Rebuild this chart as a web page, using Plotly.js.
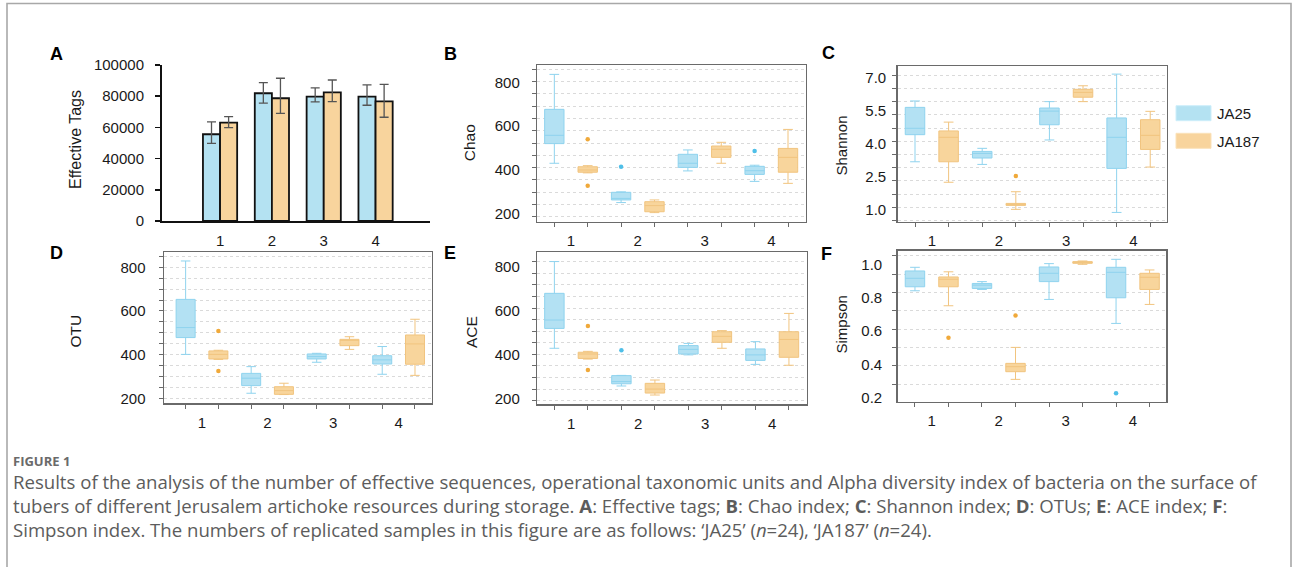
<!DOCTYPE html>
<html><head><meta charset="utf-8">
<script src="https://cdn.plot.ly/plotly-3.0.1.min.js"></script>
<style>html,body{margin:0;padding:0;background:#fff;} #chart{width:1293px;height:567px;}</style>
</head><body><div id="chart"></div>
<script>
const W = 1293, H = 567;
const groups = ['1', '2', '3', '4'];
const seriesNames = ['JA25', 'JA187'];

// Panel A: effective tags (mean, +err, -err)
const tagsJA25 = [55600, 81900, 79700, 79700];
const tagsJA25Plus = [8000, 6800, 5700, 7500];
const tagsJA25Minus = [5800, 6400, 3400, 5500];
const tagsJA187 = [63000, 78700, 82500, 76700];
const tagsJA187Plus = [3900, 12800, 7900, 10900];
const tagsJA187Minus = [3200, 9700, 6000, 10200];

// Box stats per group: [lower whisker, q1, median, q3, upper whisker]
const chaoJA25 = [[429, 519, 557, 676, 836], [249, 261, 268, 296, 298], [394, 410, 429, 470, 490], [346, 378, 395, 415, 420]];
const chaoJA187 = [[385, 388, 398, 413, 418], [203, 207, 235, 253, 261], [429, 456, 493, 508, 525], [337, 388, 456, 497, 584]];
const chaoOutJA25 = [[2, 413], [4, 485]];
const chaoOutJA187 = [[1, 539], [1, 326]];

const shannonJA25 = [[3.20, 4.43, 4.72, 5.67, 5.96], [3.08, 3.37, 3.58, 3.67, 3.81], [4.19, 4.88, 5.50, 5.64, 5.93], [0.90, 2.90, 4.31, 5.19, 7.18]];
const shannonJA187 = [[2.27, 3.20, 4.31, 4.60, 5.00], [1.04, 1.22, 1.27, 1.31, 1.84], [5.93, 6.13, 6.35, 6.49, 6.65], [2.96, 3.76, 4.40, 5.11, 5.49]];
const shannonOutJA25 = [];
const shannonOutJA187 = [[2, 2.55]];

const otuJA25 = [[401, 478, 524, 653, 829], [223, 258, 292, 314, 345], [365, 380, 391, 403, 406], [310, 357, 376, 395, 437]];
const otuJA187 = [[378, 380, 401, 417, 420], [217, 218, 235, 253, 269], [424, 441, 468, 470, 482], [305, 356, 449, 490, 562]];
const otuOutJA25 = [];
const otuOutJA187 = [[1, 508], [1, 325]];

const aceJA25 = [[430, 520, 558, 679, 823], [259, 269, 279, 306, 307], [400, 404, 425, 442, 452], [357, 375, 400, 427, 460]];
const aceJA187 = [[381, 384, 404, 412, 416], [218, 227, 245, 271, 286], [430, 457, 484, 505, 510], [353, 389, 470, 505, 588]];
const aceOutJA25 = [[2, 421]];
const aceOutJA187 = [[1, 531], [1, 332]];

const simpsonJA25 = [[0.843, 0.867, 0.918, 0.962, 0.984], [0.851, 0.857, 0.877, 0.887, 0.898], [0.791, 0.898, 0.948, 0.986, 1.006], [0.647, 0.801, 0.954, 0.984, 1.032]];
const simpsonJA187 = [[0.753, 0.867, 0.912, 0.926, 0.957], [0.311, 0.357, 0.387, 0.407, 0.503], [1.002, 1.008, 1.014, 1.018, 1.022], [0.761, 0.851, 0.924, 0.948, 0.968]];
const simpsonOutJA25 = [[4, 0.227]];
const simpsonOutJA187 = [[1, 0.561], [2, 0.695]];

const colors = {
  fill: ['#b3e1f3', '#f8d59c'],
  line: ['#8fd3ee', '#f1c47f'],
  dot: ['#4fbfe8', '#f0a93a'],
  bar: ['#b4e2f2', '#f8d49d']
};

const px = x => x / W;
const py = y => 1 - y / H;
const FONT = 'Liberation Sans, Arial, sans-serif';

const traces = [];

// Panel A bars
[[tagsJA25, tagsJA25Plus, tagsJA25Minus], [tagsJA187, tagsJA187Plus, tagsJA187Minus]].forEach((d, s) => {
  traces.push({
    type: 'bar', x: groups.map(Number), y: d[0], name: seriesNames[s],
    xaxis: 'x', yaxis: 'y', showlegend: false, hoverinfo: 'skip',
    marker: {color: colors.bar[s], line: {color: '#111', width: 1.8}},
    error_y: {type: 'data', symmetric: false, array: d[1], arrayminus: d[2], color: '#555', thickness: 1.3, width: 4.5}
  });
});

function addBoxes(stats, outs, ax) {
  stats.forEach((st, s) => {
    const xs = st.map((_, g) => 2 * g + s + 1);
    traces.push({
      type: 'box', name: seriesNames[s], x: xs,
      lowerfence: st.map(d => d[0]), q1: st.map(d => d[1]), median: st.map(d => d[2]),
      q3: st.map(d => d[3]), upperfence: st.map(d => d[4]),
      xaxis: 'x' + ax, yaxis: 'y' + ax, width: 0.58, whiskerwidth: 0.5,
      fillcolor: colors.fill[s], line: {color: colors.line[s], width: 1},
      boxpoints: false, showlegend: false, hoverinfo: 'skip'
    });
    const o = outs[s];
    if (o.length) {
      traces.push({
        type: 'scatter', mode: 'markers', x: o.map(d => 2 * (d[0] - 1) + s + 1), y: o.map(d => d[1]),
        xaxis: 'x' + ax, yaxis: 'y' + ax, marker: {color: colors.dot[s], size: 4.5},
        showlegend: false, hoverinfo: 'skip'
      });
    }
  });
}
addBoxes([chaoJA25, chaoJA187], [chaoOutJA25, chaoOutJA187], 2);
addBoxes([shannonJA25, shannonJA187], [shannonOutJA25, shannonOutJA187], 3);
addBoxes([otuJA25, otuJA187], [otuOutJA25, otuOutJA187], 4);
addBoxes([aceJA25, aceJA187], [aceOutJA25, aceOutJA187], 5);
addBoxes([simpsonJA25, simpsonJA187], [simpsonOutJA25, simpsonOutJA187], 6);

const tickfont = {family: FONT, size: 15, color: '#1a1a1a'};

function boxX(x0, x1, range) {
  return {
    domain: [px(x0), px(x1)], range: range, tickmode: 'array',
    tickvals: [1.5, 3.5, 5.5, 7.5], ticktext: groups, ticks: '', ticklabelstandoff: 5,
    showline: true, mirror: true, linecolor: '#6a6a6a', linewidth: 1.5,
    showgrid: false, zeroline: false, tickfont: tickfont, fixedrange: true,
    minor: {tickmode: 'linear', tick0: 1, dtick: 1, ticks: 'outside', ticklen: 4, tickcolor: '#6a6a6a', tickwidth: 1, showgrid: false}
  };
}
function boxY(y0, y1, range, vals, texts, t0, dt, standoff) {
  return {
    domain: [py(y1), py(y0)], range: range, tickmode: 'array',
    tickvals: vals, ticktext: texts, ticks: '', ticklabelstandoff: standoff,
    showline: true, mirror: true, linecolor: '#6a6a6a', linewidth: 1.5,
    showgrid: false, zeroline: false, tickfont: tickfont, fixedrange: true,
    minor: {tickmode: 'linear', tick0: t0, dtick: dt, ticks: 'outside', ticklen: 4, tickcolor: '#6a6a6a', tickwidth: 1,
      showgrid: true, gridcolor: '#dadada', griddash: '3px,3px', gridwidth: 1}
  };
}

const layout = {
  width: W, height: H, margin: {l: 0, r: 0, t: 0, b: 0},
  paper_bgcolor: '#fff', plot_bgcolor: 'rgba(0,0,0,0)',
  barmode: 'group', bargap: 0.34, bargroupgap: 0, boxmode: 'overlay',
  font: {family: FONT, size: 15, color: '#1a1a1a'},
  xaxis: {
    domain: [px(162), px(430)], range: [-0.12, 5.05], tickmode: 'array', tickvals: [1, 2, 3, 4], ticktext: groups,
    ticks: '', ticklabelstandoff: 5, showline: true, linecolor: '#111', linewidth: 2,
    showgrid: false, zeroline: false, tickfont: tickfont, fixedrange: true
  },
  yaxis: {
    domain: [py(221), py(65)], range: [0, 100000], tickmode: 'array',
    tickvals: [0, 20000, 40000, 60000, 80000, 100000], ticktext: ['0', '20000', '40000', '60000', '80000', '100000'],
    ticks: 'outside', ticklen: 5, tickcolor: '#111', tickwidth: 1.5, ticklabelstandoff: 8,
    showline: true, linecolor: '#111', linewidth: 2, showgrid: false, zeroline: false, tickfont: tickfont, fixedrange: true
  },
  xaxis2: Object.assign(boxX(537.3, 805.7, [0.49, 8.53]), {anchor: 'y2'}),
  yaxis2: Object.assign(boxY(65, 221.7, [161.4, 879], [200, 400, 600, 800], ['200', '400', '600', '800'], 184.5, 56.2, 13), {anchor: 'x2'}),
  xaxis3: Object.assign(boxX(897.7, 1166.7, [0.485, 8.49]), {anchor: 'y3'}),
  yaxis3: Object.assign(boxY(66, 221.7, [0.479, 7.548], [1, 2.5, 4, 5.5, 7], ['1.0', '2.5', '4.0', '5.5', '7.0'], 1.13, 0.6, 7), {anchor: 'x3'}),
  xaxis4: Object.assign(boxX(164, 431.7, [0.34, 8.51]), {anchor: 'y4'}),
  yaxis4: Object.assign(boxY(252.3, 403.3, [177, 868.7], [200, 400, 600, 800], ['200', '400', '600', '800'], 200, 50, 14), {anchor: 'x4'}),
  xaxis5: Object.assign(boxX(537.3, 806.7, [0.49, 8.53]), {anchor: 'y5'}),
  yaxis5: Object.assign(boxY(252.3, 404.3, [176, 865], [200, 400, 600, 800], ['200', '400', '600', '800'], 192.5, 52.5, 13), {anchor: 'x5'}),
  xaxis6: Object.assign(boxX(897.7, 1166, [0.485, 8.49]), {anchor: 'y6'}),
  yaxis6: Object.assign(boxY(250.7, 401.7, [0.1768, 1.0837], [0.2, 0.4, 0.6, 0.8, 1.0], ['0.2', '0.4', '0.6', '0.8', '1.0'], 0.283, 0.11, 11), {anchor: 'x6'}),
  shapes: [],
  annotations: []
};

// outer frame
layout.shapes.push({type: 'rect', xref: 'paper', yref: 'paper', x0: px(7), x1: px(1291), y0: py(600), y1: py(3.5),
  line: {color: '#a8a8a8', width: 1.6}, fillcolor: 'rgba(0,0,0,0)', layer: 'below'});

// legend swatches + labels
[[105.7, 120.7], [133.3, 148.3]].forEach((yy, s) => {
  layout.shapes.push({type: 'rect', xref: 'paper', yref: 'paper', x0: px(1176), x1: px(1211), y0: py(yy[1]), y1: py(yy[0]),
    line: {color: s ? '#fbe2b9' : '#cdeefa', width: 1}, fillcolor: colors.bar[s]});
  layout.annotations.push({text: seriesNames[s], xref: 'paper', yref: 'paper', x: px(1215), y: py((yy[0] + yy[1]) / 2 + 0.5),
    xanchor: 'left', yanchor: 'middle', showarrow: false, font: {family: FONT, size: 15, color: '#1a1a1a'}});
});

// panel letters
[['A', 56.8, 54], ['B', 450, 53.5], ['C', 828.5, 53], ['D', 56.8, 253.3], ['E', 449.5, 253.3], ['F', 826.7, 254]].forEach(d => {
  layout.annotations.push({text: '<b>' + d[0] + '</b>', xref: 'paper', yref: 'paper', x: px(d[1]), y: py(d[2]),
    xanchor: 'center', yanchor: 'middle', showarrow: false, font: {family: FONT, size: 18, color: '#000'}});
});

// axis titles
[['Effective Tags', 75, 140, 16], ['Chao', 469.3, 143, 15.5], ['Shannon', 840.5, 146, 15], ['OTU', 74.5, 331, 15.5], ['ACE', 471, 332, 15.5], ['Simpson', 840.5, 325, 15]].forEach(d => {
  layout.annotations.push({text: d[0], xref: 'paper', yref: 'paper', x: px(d[1]), y: py(d[2]), textangle: -90,
    xanchor: 'center', yanchor: 'middle', showarrow: false, font: {family: FONT, size: d[3], color: '#1a1a1a'}});
});

// caption
const CAP = 'Open Sans, Noto Sans, sans-serif';
const captionLines = [
  'Results of the analysis of the number of effective sequences, operational taxonomic units and Alpha diversity index of bacteria on the surface of',
  'tubers of different Jerusalem artichoke resources during storage. <b>A</b>: Effective tags; <b>B</b>: Chao index; <b>C</b>: Shannon index; <b>D</b>: OTUs; <b>E</b>: ACE index; <b>F</b>:',
  'Simpson index. The numbers of replicated samples in this figure are as follows: \u2018JA25\u2019 (<i>n</i>=24), \u2018JA187\u2019 (<i>n</i>=24).'
];
layout.annotations.push({text: '<b>FIGURE 1</b>', xref: 'paper', yref: 'paper', x: px(11), y: py(460.5), xanchor: 'left', yanchor: 'middle',
  showarrow: false, font: {family: CAP, size: 13, color: '#6a6a6a'}});
layout.annotations.push({text: captionLines.join('<br>'), xref: 'paper', yref: 'paper', x: px(11), y: py(505.5), xanchor: 'left', yanchor: 'middle',
  align: 'left', showarrow: false, font: {family: CAP, size: 18.6, color: '#5c5c5c'}});

Plotly.newPlot('chart', traces, layout, {staticPlot: true, displayModeBar: false});
</script></body></html>
